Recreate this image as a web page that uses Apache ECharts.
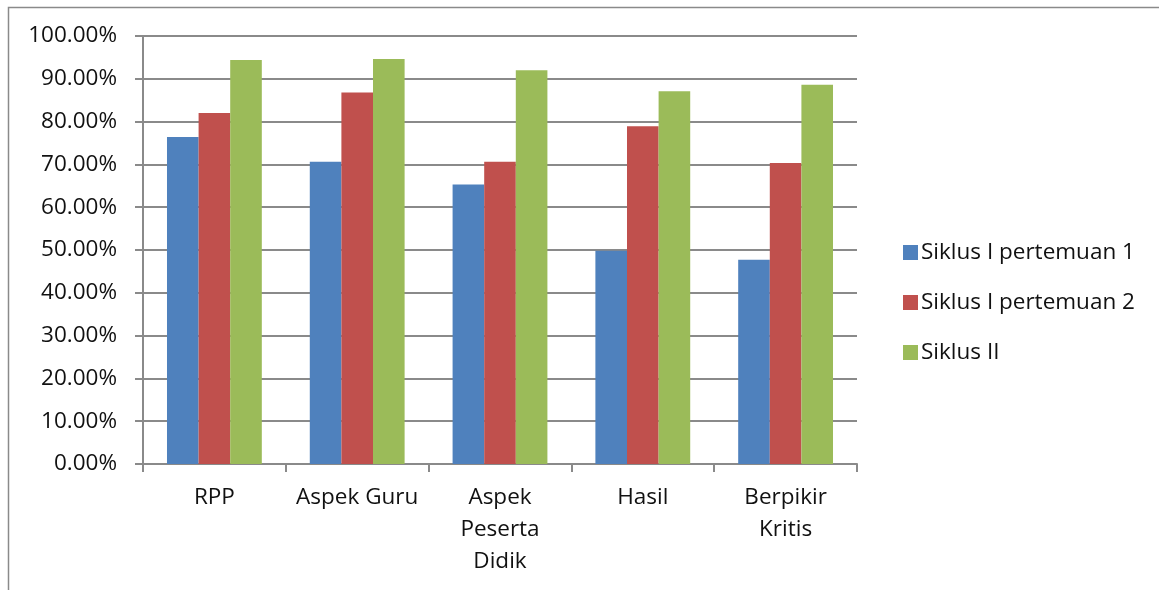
<!DOCTYPE html>
<html><head><meta charset="utf-8">
<script src="https://cdn.jsdelivr.net/npm/echarts@6/dist/echarts.min.js"></script>
<style>html,body{margin:0;padding:0;background:#fff}#c{width:1159px;height:590px}</style>
</head><body><div id="c"></div>
<script>
const categories = ['RPP', 'Aspek Guru', 'Aspek Peserta Didik', 'Hasil', 'Berpikir Kritis'];
const categoryLabels = ['RPP', 'Aspek Guru', 'Aspek\nPeserta\nDidik', 'Hasil', 'Berpikir\nKritis'];
const seriesNames = ['Siklus I pertemuan 1', 'Siklus I pertemuan 2', 'Siklus II'];
const siklus1p1 = [76.4, 70.6, 65.3, 49.8, 47.7];
const siklus1p2 = [82.0, 86.8, 70.6, 78.9, 70.3];
const siklus2 = [94.4, 94.6, 92.0, 87.1, 88.6];
const colors = ['#4F81BD', '#C0504D', '#9BBB59'];
const FONT = 'Open Sans';

const chart = echarts.init(document.getElementById('c'), null, {renderer: 'canvas'});
const data = [siklus1p1, siklus1p2, siklus2];
chart.setOption({
  animation: false,
  textStyle: {fontFamily: FONT},
  graphic: [{type: 'rect', shape: {x: 8.5, y: 7.5, width: 1300, height: 700},
    style: {fill: 'none', stroke: '#8a8a8a', lineWidth: 1.5}, z: -1}],
  grid: {left: 143, right: 302, top: 36, bottom: 126, containLabel: false},
  legend: {
    orient: 'vertical', left: 898, top: 232, itemWidth: 15, itemHeight: 15, itemGap: 19,
    icon: 'rect', textStyle: {fontSize: 22.5, lineHeight: 31, color: '#111', fontFamily: FONT, padding: [0, 0, 0, -2]},
    data: seriesNames
  },
  xAxis: {
    type: 'category', data: categories,
    axisLine: {lineStyle: {color: '#8a8a8a', width: 2}},
    axisTick: {show: true, length: 8, interval: 0, alignWithLabel: false, lineStyle: {color: '#8a8a8a', width: 2}},
    axisLabel: {interval: 0, fontSize: 22.5, color: '#111', margin: 18, lineHeight: 32,
      formatter: (v, i) => categoryLabels[i]}
  },
  yAxis: {
    type: 'value', min: 0, max: 100, interval: 10,
    axisLine: {show: true, lineStyle: {color: '#8a8a8a', width: 2}},
    axisTick: {show: true, length: 8, lineStyle: {color: '#8a8a8a', width: 2}},
    splitLine: {lineStyle: {color: '#8a8a8a', width: 2}},
    axisLabel: {fontSize: 22.5, color: '#111', margin: 26, formatter: v => v.toFixed(2) + '%'}
  },
  series: seriesNames.map((n, i) => ({
    name: n, type: 'bar', data: data[i], barGap: '0%', barCategoryGap: '33.6%',
    itemStyle: {color: colors[i]}
  }))
});
</script></body></html>
